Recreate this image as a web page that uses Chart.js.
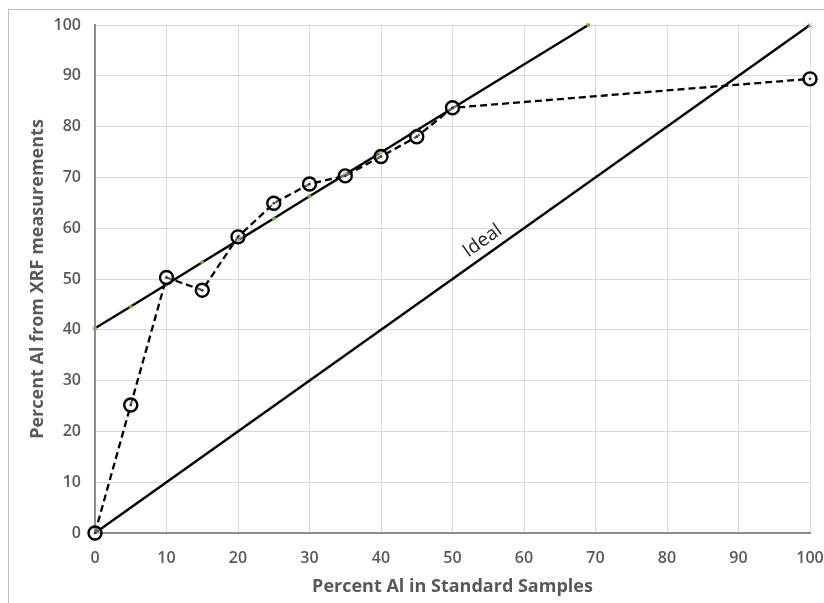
<!DOCTYPE html>
<html>
<head>
<meta charset="utf-8">
<script src="https://cdn.jsdelivr.net/npm/chart.js@4.4.1/dist/chart.umd.min.js"></script>
<style>
  html, body { margin: 0; padding: 0; background: #ffffff; }
  #wrap { position: relative; width: 824px; height: 603px; }
</style>
</head>
<body>
<div id="wrap"><canvas id="c" width="824" height="603"></canvas></div>
<script>
// Measured data (percent Al)
const standardPct = [0, 5, 10, 15, 20, 25, 30, 35, 40, 45, 50, 100];
const xrfPct      = [0, 25.2, 50.3, 47.8, 58.3, 64.9, 68.7, 70.3, 74.1, 78.0, 83.7, 89.4];

// Linear fit points (small green markers)
const fitX = [0, 5, 10, 15, 20, 25, 30, 35, 40, 45, 50, 69];
const fitY = [40.3, 44.6, 48.9, 53.3, 57.6, 61.9, 66.3, 70.6, 74.9, 79.3, 83.6, 100];

// Ideal line
const idealX = [0, 100];
const idealY = [0, 100];

const xTicks = [0, 10, 20, 30, 40, 50, 60, 70, 80, 90, 100];
const yTicks = [0, 10, 20, 30, 40, 50, 60, 70, 80, 90, 100];

const idealLabel = { text: 'Ideal', x: 54.2, y: 57.5 };

const pts = (xs, ys) => xs.map((x, i) => ({ x: x, y: ys[i] }));

const framePlugin = {
  id: 'frame',
  beforeDraw(chart) {
    const ctx = chart.ctx;
    ctx.save();
    ctx.fillStyle = '#ffffff';
    ctx.fillRect(0, 0, chart.width, chart.height);
    ctx.strokeStyle = '#bdbdbd';
    ctx.lineWidth = 1;
    ctx.beginPath();
    ctx.moveTo(8.5, chart.height);
    ctx.lineTo(8.5, 9.5);
    ctx.lineTo(chart.width, 9.5);
    ctx.stroke();
    ctx.restore();
  }
};

const labelPlugin = {
  id: 'idealLabel',
  afterDatasetsDraw(chart) {
    const xs = chart.scales.x, ys = chart.scales.y;
    const px = xs.getPixelForValue(idealLabel.x);
    const py = ys.getPixelForValue(idealLabel.y);
    const dx = xs.getPixelForValue(100) - xs.getPixelForValue(0);
    const dy = ys.getPixelForValue(0) - ys.getPixelForValue(100);
    const ang = -Math.atan2(dy, dx);
    const ctx = chart.ctx;
    ctx.save();
    ctx.translate(px, py);
    ctx.rotate(ang);
    ctx.font = '19px "Open Sans", sans-serif';
    ctx.fillStyle = '#222222';
    ctx.textAlign = 'center';
    ctx.textBaseline = 'middle';
    ctx.fillText(idealLabel.text, 0, 0);
    ctx.restore();
  }
};

const tickFont = { family: '"Open Sans", sans-serif', size: 16, weight: '600' };
const titleFont = { family: '"Open Sans", sans-serif', size: 18, weight: 'bold' };

new Chart(document.getElementById('c'), {
  type: 'scatter',
  data: {
    datasets: [
      {
        label: 'Ideal',
        data: pts(idealX, idealY),
        showLine: true,
        clip: false,
        borderColor: '#000000',
        borderWidth: 2.4,
        pointRadius: [0, 3.5],
        pointStyle: 'crossRot',
        pointBorderColor: '#9dc3e6',
        pointBorderWidth: 1,
        order: 3
      },
      {
        label: 'Fit',
        data: pts(fitX, fitY),
        showLine: true,
        clip: false,
        borderColor: '#000000',
        borderWidth: 2.4,
        pointRadius: 2,
        pointBackgroundColor: '#70ad47',
        pointBorderColor: '#70ad47',
        pointBorderWidth: 0,
        order: 2
      },
      {
        label: 'XRF',
        data: pts(standardPct, xrfPct),
        showLine: true,
        clip: false,
        borderColor: '#000000',
        borderWidth: 2.3,
        borderDash: [7, 4],
        pointRadius: 6.5,
        pointBackgroundColor: 'rgba(255,255,240,0.4)',
        pointBorderColor: '#000000',
        pointBorderWidth: 2.4,
        order: 1
      },
      {
        label: 'XRF centres',
        data: pts(standardPct, xrfPct),
        showLine: false,
        clip: false,
        pointRadius: 1.3,
        pointBackgroundColor: '#333333',
        pointBorderWidth: 0,
        order: 0
      }
    ]
  },
  options: {
    responsive: false,
    animation: false,
    events: [],
    layout: { padding: { left: 27, top: 25, right: 14, bottom: 5 } },
    plugins: { legend: { display: false }, tooltip: { enabled: false } },
    scales: {
      x: {
        type: 'linear',
        min: 0, max: 100,
        afterBuildTicks(s) { s.ticks = xTicks.map(v => ({ value: v })); },
        afterFit(s) { s.height = 603 - 533 - 5; s.paddingLeft = 0; s.paddingRight = 0; },
        grid: { color: '#d9d9d9', lineWidth: 1, drawTicks: false },
        border: { color: '#8c8c8c', width: 2 },
        ticks: { color: '#595959', padding: 16, font: tickFont },
        title: { display: true, text: 'Percent Al in Standard Samples', color: '#595959', padding: { top: 11, bottom: 0 }, font: titleFont }
      },
      y: {
        type: 'linear',
        min: 0, max: 100,
        afterBuildTicks(s) { s.ticks = yTicks.map(v => ({ value: v })); },
        afterFit(s) { s.width = 95 - 27; s.paddingTop = 0; s.paddingBottom = 0; },
        grid: { color: '#d9d9d9', lineWidth: 1, drawTicks: false },
        border: { color: '#8c8c8c', width: 2 },
        ticks: { color: '#595959', padding: 14, font: tickFont },
        title: { display: true, text: 'Percent Al from XRF measurements', color: '#595959', padding: { top: 0, bottom: 4 }, font: titleFont }
      }
    }
  },
  plugins: [framePlugin, labelPlugin]
});
</script>
</body>
</html>
